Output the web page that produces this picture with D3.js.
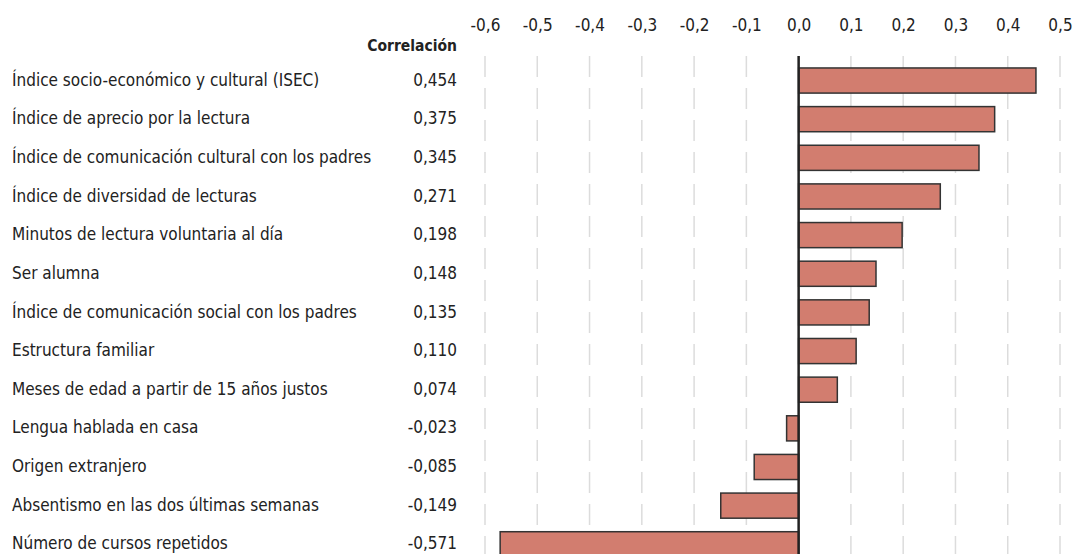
<!DOCTYPE html>
<html><head><meta charset="utf-8">
<script src="https://cdn.jsdelivr.net/npm/d3@7"></script>
<style>
html,body{margin:0;padding:0;background:#fff;}
svg{display:block;font-family:"Liberation Sans Narrow","DejaVu Sans Condensed",sans-serif;}
</style></head><body>
<script>
const categories = [
  "Índice socio-económico y cultural (ISEC)",
  "Índice de aprecio por la lectura",
  "Índice de comunicación cultural con los padres",
  "Índice de diversidad de lecturas",
  "Minutos de lectura voluntaria al día",
  "Ser alumna",
  "Índice de comunicación social con los padres",
  "Estructura familiar",
  "Meses de edad a partir de 15 años justos",
  "Lengua hablada en casa",
  "Origen extranjero",
  "Absentismo en las dos últimas semanas",
  "Número de cursos repetidos"
];
const values = [0.454, 0.375, 0.345, 0.271, 0.198, 0.148, 0.135, 0.110, 0.074, -0.023, -0.085, -0.149, -0.571];
const valueLabels = ["0,454","0,375","0,345","0,271","0,198","0,148","0,135","0,110","0,074","-0,023","-0,085","-0,149","-0,571"];
const tickValues = [-0.6,-0.5,-0.4,-0.3,-0.2,-0.1,0,0.1,0.2,0.3,0.4,0.5];
const columnHeader = "Correlación";

const W = 1076, H = 554;
const svg = d3.select("body").append("svg").attr("width", W).attr("height", H);

const x = d3.scaleLinear().domain([-0.6, 0.5]).range([485, 1060]);
const y = d3.scaleBand().domain(categories).range([61.2, 563.6]).paddingInner(0.35).paddingOuter(0.175);

// gridlines
svg.append("g").selectAll("line").data(tickValues.filter(d => d !== 0)).join("line")
  .attr("x1", d => x(d)).attr("x2", d => x(d))
  .attr("y1", 56).attr("y2", H + 20)
  .attr("stroke", "#dcdcdc").attr("stroke-width", 1.5)
  .attr("stroke-dasharray", "21,11");

// top axis labels
const axis = d3.axisTop(x).tickValues(tickValues).tickSize(0).tickPadding(0)
  .tickFormat(d => d3.format(".1f")(d).replace(".", ",").replace("−", "-"));
const ag = svg.append("g").attr("transform", "translate(0,31)").call(axis);
ag.select(".domain").remove();
ag.selectAll("text").attr("font-size", 17).attr("fill", "#222")
  .attr("font-family", "Liberation Sans Narrow, DejaVu Sans Condensed, sans-serif");

// bars
svg.append("g").selectAll("rect").data(values).join("rect")
  .attr("x", d => x(Math.min(0, d)))
  .attr("width", d => Math.abs(x(d) - x(0)))
  .attr("y", (d, i) => y(categories[i]))
  .attr("height", y.bandwidth())
  .attr("fill", "#d27d6f").attr("stroke", "#333").attr("stroke-width", 1.5);

// zero line
svg.append("line").attr("x1", x(0)).attr("x2", x(0)).attr("y1", 56).attr("y2", H + 20)
  .attr("stroke", "#222").attr("stroke-width", 2.5);

// header
svg.append("text").attr("x", 457).attr("y", 51).attr("text-anchor", "end")
  .attr("font-size", 15.5).attr("font-weight", "bold").attr("fill", "#222").text(columnHeader);

// category labels
svg.append("g").selectAll("text").data(categories).join("text")
  .attr("x", 12).attr("y", d => y(d) + y.bandwidth() / 2)
  .attr("dy", "0.3em").attr("font-size", 17).attr("fill", "#222").text(d => d);

// value labels
svg.append("g").selectAll("text").data(valueLabels).join("text")
  .attr("x", 457).attr("y", (d, i) => y(categories[i]) + y.bandwidth() / 2)
  .attr("dy", "0.3em").attr("text-anchor", "end").attr("font-size", 17).attr("fill", "#222").text(d => d);
</script>
</body></html>
